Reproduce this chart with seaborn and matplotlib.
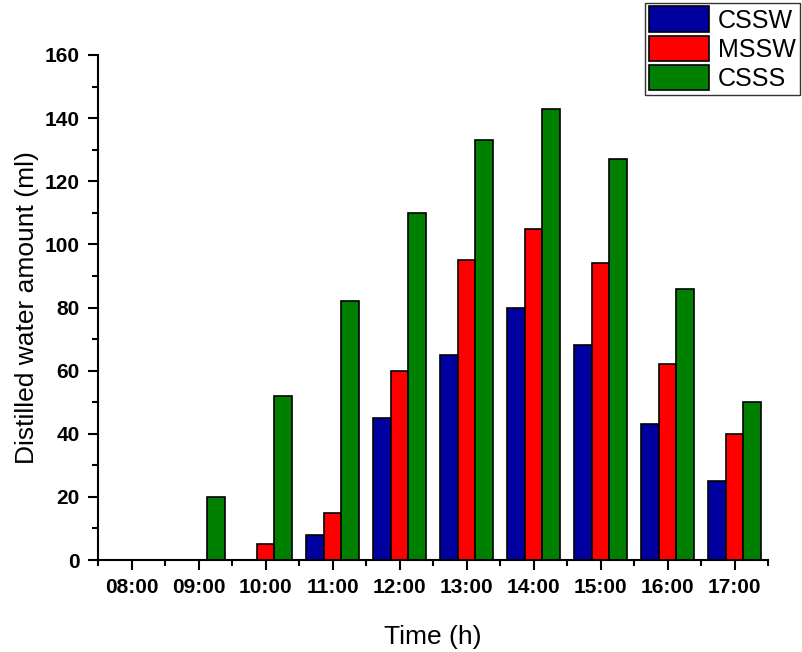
import matplotlib
matplotlib.use("Agg")
import matplotlib.pyplot as plt
import seaborn as sns
import pandas as pd
from matplotlib.ticker import MultipleLocator, FixedLocator

times = ["08:00", "09:00", "10:00", "11:00", "12:00", "13:00", "14:00", "15:00", "16:00", "17:00"]
cssw = [0, 0, 0, 8, 45, 65, 80, 68, 43, 25]
mssw = [0, 0, 5, 15, 60, 95, 105, 94, 62, 40]
csss = [0, 20, 52, 82, 110, 133, 143, 127, 86, 50]
series = ["CSSW", "MSSW", "CSSS"]
colors = ["#0000A0", "#FF0000", "#008000"]

rows = []
for name, vals in zip(series, [cssw, mssw, csss]):
    for t, v in zip(times, vals):
        rows.append({"Time": t, "Series": name, "Value": v})
df = pd.DataFrame(rows)

sns.set_style("ticks")
plt.rcParams["font.family"] = ["Liberation Sans", "DejaVu Sans"]
plt.rcParams["text.color"] = "black"
plt.rcParams["axes.labelcolor"] = "black"

fig = plt.figure(figsize=(8.02, 6.52), dpi=100)
ax = fig.add_axes([98 / 802, 1 - 560 / 652, (768 - 98) / 802, (560 - 55) / 652])

sns.barplot(data=df, x="Time", y="Value", hue="Series", order=times,
            hue_order=series, palette=colors, saturation=1, width=0.8,
            edgecolor="black", linewidth=1.2, ax=ax, legend=True)

ax.set_xlim(-0.5, len(times) - 0.5)
ax.set_ylim(0, 160)
ax.yaxis.set_major_locator(MultipleLocator(20))
ax.yaxis.set_minor_locator(MultipleLocator(10))
ax.xaxis.set_minor_locator(FixedLocator([i + 0.5 for i in range(-1, len(times))]))

for s in ["top", "right"]:
    ax.spines[s].set_visible(False)
for s in ["left", "bottom"]:
    ax.spines[s].set_linewidth(1.5)
    ax.spines[s].set_color("black")

ax.tick_params(axis="both", which="major", direction="out", length=7, width=1.5,
               labelsize=15, colors="black", pad=6)
ax.tick_params(axis="both", which="minor", direction="out", length=4, width=1.5,
               colors="black")
for lab in ax.get_xticklabels() + ax.get_yticklabels():
    lab.set_fontweight("bold")

ax.set_xlabel("Time (h)", fontsize=19, labelpad=20, color="black")
ax.set_ylabel("Distilled water amount (ml)", fontsize=19, labelpad=4, color="black")

ax.legend_.remove()
handles, labels = ax.get_legend_handles_labels()
leg = fig.legend(handles[:3], labels[:3], loc="upper right", bbox_to_anchor=(1.0, 1.0),
                 bbox_transform=fig.transFigure, fontsize=18, frameon=True,
                 fancybox=False, handlelength=2.4, handleheight=1.2,
                 labelspacing=0.12, borderpad=0.15, handletextpad=0.35,
                 borderaxespad=0.1)
leg.get_frame().set_edgecolor("#333333")
leg.get_frame().set_linewidth(1.0)
leg.get_frame().set_alpha(1)

fig.savefig("out.png", dpi=100)
